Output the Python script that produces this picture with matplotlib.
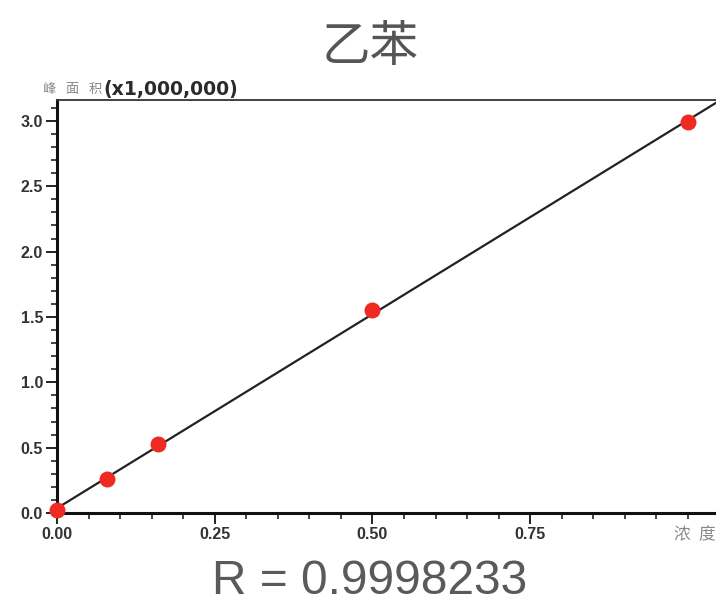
import numpy as np
import matplotlib.pyplot as plt
from matplotlib.ticker import MultipleLocator, FormatStrFormatter

conc = [0.0, 0.08, 0.16, 0.50, 1.00]
area = [0.02, 0.26, 0.53, 1.55, 2.99]
title = "乙苯"
r_text = "R = 0.9998233"
xticks = [0.0, 0.25, 0.50, 0.75]
yticks = [0.0, 0.5, 1.0, 1.5, 2.0, 2.5, 3.0]

plt.rcParams['font.family'] = ['Noto Sans CJK SC', 'DejaVu Sans']

fig = plt.figure(figsize=(7.16, 6.07), dpi=100)
ax = fig.add_axes([57/716, 94/607, 694/716, 413/607])

slope, icpt = np.polyfit(conc, area, 1)
xl = np.array([0.0, 1.15])
ax.plot(xl, slope*xl + icpt, color='#222222', lw=1.6, zorder=2)
ax.plot(conc, area, 'o', color='#ee2a22', markersize=11.5, markeredgewidth=0,
        zorder=3, clip_on=False)

ax.set_xlim(0, 1.1)
ax.set_ylim(0, 3.16)
ax.set_xticks(xticks)
ax.set_yticks(yticks)
ax.xaxis.set_minor_locator(MultipleLocator(0.05))
ax.yaxis.set_minor_locator(MultipleLocator(0.1))
ax.xaxis.set_major_formatter(FormatStrFormatter('%.2f'))
ax.yaxis.set_major_formatter(FormatStrFormatter('%.1f'))
ax.tick_params(which='major', direction='out', length=8, width=1.4, color='#222222',
               labelsize=11.5, labelcolor='#333333', pad=2)
ax.tick_params(which='minor', direction='out', length=4.5, width=1.2, color='#222222')
for lab in ax.get_xticklabels() + ax.get_yticklabels():
    lab.set_family('Liberation Sans')
    lab.set_fontweight('bold')

for s in ['left', 'bottom']:
    ax.spines[s].set_linewidth(2.2)
    ax.spines[s].set_color('#111111')
ax.spines['top'].set_linewidth(1.3)
ax.spines['top'].set_color('#333333')
ax.spines['right'].set_visible(False)

fig.text(370/716, 1 - 47/607, title, ha='center', va='center', fontsize=35,
         color='#555555')
fig.text(370/716, 1 - 581/607, r_text, ha='center', va='center', fontsize=34.5,
         color='#5a5a5a', family=['Liberation Sans'])
for i, ch in enumerate("峰面积"):
    fig.text((49 + 23*i)/716, 1 - 89/607, ch, ha='center', va='center',
             fontsize=9.5, color='#888888')
fig.text(103/716, 1 - 89/607, "(x1,000,000)", ha='left', va='center', fontsize=13.6,
         color='#2a2a2a', family=['DejaVu Sans'], fontweight='semibold')
fig.text(682/716, 1 - 535/607, "浓", ha='center', va='center', fontsize=12,
         color='#888888')
fig.text(707/716, 1 - 535/607, "度", ha='center', va='center', fontsize=12,
         color='#888888')

fig.savefig('out.png', dpi=100)
